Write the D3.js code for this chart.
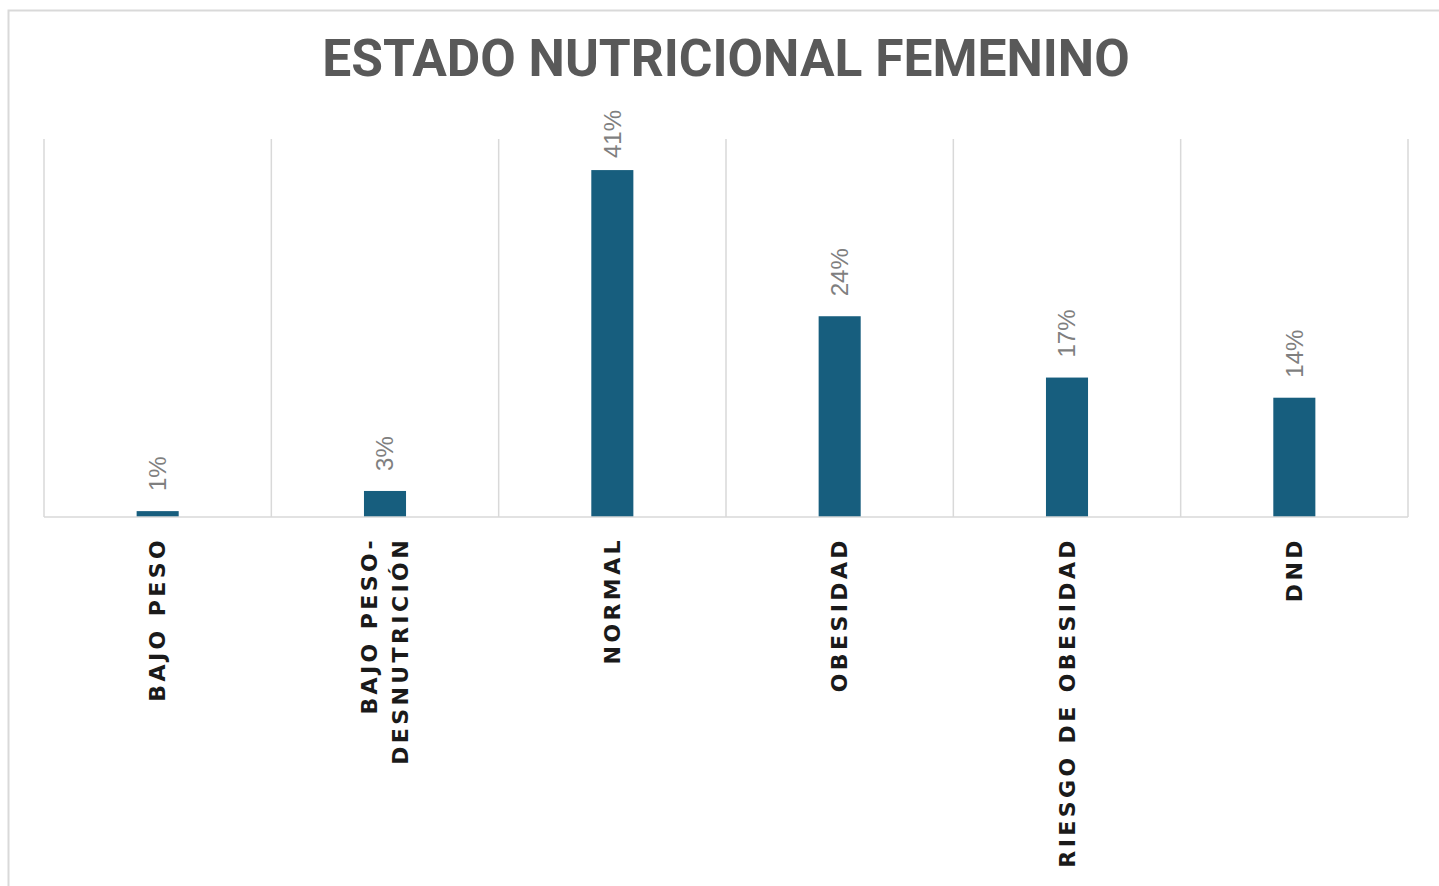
<!DOCTYPE html>
<html>

<head>
    <meta charset="utf-8">
    <title>Estado nutricional femenino</title>
    <script src="https://cdn.jsdelivr.net/npm/d3@7"></script>
    <style>
        body { margin: 0; background: #fff; }
    </style>
</head>

<body>
    <svg width="1439" height="886" id="mainsvg"></svg>
    <script>
        // data (shares, 0-100)
        const categories = ['BAJO PESO', 'BAJO PESO-\nDESNUTRICIÓN', 'NORMAL', 'OBESIDAD', 'RIESGO DE OBESIDAD', 'DND'];
        const values = [0.7, 3.1, 41.3, 23.9, 16.6, 14.2];
        const valueLabels = ['1%', '3%', '41%', '24%', '17%', '14%'];
        const title = 'ESTADO NUTRICIONAL FEMENINO';

        const svg = d3.select('#mainsvg');
        const width = +svg.attr('width');
        const height = +svg.attr('height');
        const margin = { top: 139, right: 31, bottom: 369, left: 44 };
        const innerWidth = width - margin.left - margin.right;
        const innerHeight = height - margin.top - margin.bottom;

        // outer frame (only top and left edges are visible)
        svg.append('rect')
            .attr('x', 8.5).attr('y', 10.5)
            .attr('width', width + 20).attr('height', height + 20)
            .attr('fill', 'none').attr('stroke', '#d9d9d9').attr('stroke-width', 2);

        svg.append('text')
            .attr('x', margin.left + innerWidth / 2)
            .attr('y', 76)
            .attr('text-anchor', 'middle')
            .attr('font-family', 'Roboto, sans-serif')
            .attr('font-weight', 'bold')
            .attr('font-size', 51.5)
            .attr('fill', '#595959')
            .text(title);

        const g = svg.append('g')
            .attr('transform', `translate(${margin.left}, ${margin.top})`);

        const xScale = d3.scaleBand()
            .domain(categories)
            .range([0, innerWidth])
            .paddingInner(0.815)
            .paddingOuter(0.4075);

        const yScale = d3.scaleLinear()
            .domain([0, 45])
            .range([innerHeight, 0]);

        const step = xScale.step();
        const bounds = d3.range(categories.length + 1).map(i => i * step);

        // vertical separators
        g.selectAll('.sep').data(bounds).join('line')
            .attr('class', 'sep')
            .attr('x1', d => d).attr('x2', d => d)
            .attr('y1', 0).attr('y2', innerHeight)
            .attr('stroke', '#d9d9d9').attr('stroke-width', 1.5);

        // bars
        g.selectAll('.bar').data(values).join('rect')
            .attr('class', 'bar')
            .attr('x', (d, i) => xScale(categories[i]))
            .attr('y', d => yScale(d))
            .attr('width', xScale.bandwidth())
            .attr('height', d => innerHeight - yScale(d))
            .attr('fill', '#175e7e');

        // baseline
        g.append('line')
            .attr('x1', 0).attr('x2', innerWidth)
            .attr('y1', innerHeight).attr('y2', innerHeight)
            .attr('stroke', '#d9d9d9').attr('stroke-width', 1.5);

        // value labels, rotated; pushed down when they would run above the top limit
        const labelGap = 20;
        const labelTop = -29;
        g.selectAll('.val').data(values).join('text')
            .attr('class', 'val')
            .attr('dy', '0.35em')
            .attr('text-anchor', 'start')
            .attr('font-family', 'Liberation Sans, Arial, sans-serif')
            .attr('font-size', 24)
            .attr('fill', '#7f7f7f')
            .text((d, i) => valueLabels[i])
            .attr('transform', function (d, i) {
                const cx = xScale(categories[i]) + xScale.bandwidth() / 2;
                const len = this.getComputedTextLength();
                const pos = Math.max(yScale(d) - labelGap, labelTop + len);
                return `translate(${cx}, ${pos}) rotate(-90)`;
            });

        // category labels, rotated
        const lineGap = 31;
        const cats = g.selectAll('.cat').data(categories).join('text')
            .attr('class', 'cat')
            .attr('transform', d => {
                const cx = xScale(d) + xScale.bandwidth() / 2;
                return `translate(${cx}, ${innerHeight + 20}) rotate(-90)`;
            })
            .attr('text-anchor', 'end')
            .attr('font-family', 'DejaVu Sans, sans-serif')
            .attr('font-weight', 'bold')
            .attr('font-size', 22)
            .attr('letter-spacing', 3.4)
            .attr('fill', '#1a1a1a');

        cats.each(function (d) {
            const lines = d.split('\n');
            const t = d3.select(this);
            lines.forEach((ln, j) => {
                t.append('tspan')
                    .attr('x', 0)
                    .attr('y', (j - (lines.length - 1) / 2) * lineGap)
                    .attr('dy', '0.35em')
                    .text(ln);
            });
        });
    </script>
</body>

</html>
